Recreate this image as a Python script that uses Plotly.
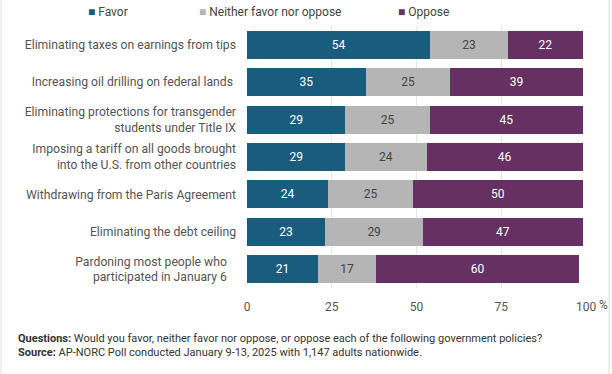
import plotly.graph_objects as go

categories = [
    "Eliminating taxes on earnings from tips",
    "Increasing oil drilling on federal lands ",
    "Eliminating protections for transgender<br>students under Title IX",
    "Imposing a tariff on all goods brought<br>into the U.S. from other countries",
    "Withdrawing from the Paris Agreement",
    "Eliminating the debt ceiling",
    "Pardoning most people who   <br>participated in January 6   ",
]
favor = [54, 35, 29, 29, 24, 23, 21]
neither = [23, 25, 25, 24, 25, 29, 17]
oppose = [22, 39, 45, 46, 50, 47, 60]
series_names = ["Favor", "Neither favor nor oppose", "Oppose"]
tick_vals = [0, 25, 50, 75, 100]

colors = ["#1a5c7e", "#b5b5b5", "#663063"]
text_colors = ["white", "#444444", "white"]
font = "Roboto"

fig = go.Figure()
for i, (name, vals) in enumerate(zip(series_names, [favor, neither, oppose])):
    fig.add_trace(go.Bar(
        y=categories, x=vals, orientation="h", name=name,
        marker=dict(color=colors[i], line=dict(width=0)),
        text=vals, textposition="inside", insidetextanchor="middle",
        textfont=dict(color=text_colors[i], size=12, family=font),
        showlegend=False, hoverinfo="skip",
    ))

W, H = 612, 374
ml, mr, mt, mb = 247, 26, 26, 86
pw = W - ml - mr
ph = H - mt - mb

fig.update_layout(
    width=W, height=H,
    margin=dict(l=ml, r=mr, t=mt, b=mb, autoexpand=False),
    barmode="stack", bargap=0.25,
    plot_bgcolor="white", paper_bgcolor="white",
    showlegend=False,
    font=dict(family=font, size=12, color="#555555"),
    xaxis=dict(range=[0, 100], tickvals=tick_vals, ticktext=[str(v) for v in tick_vals],
               showgrid=True, gridcolor="#e6e6e6", gridwidth=1, zeroline=False,
               ticklabelstandoff=10,
               automargin=False, tickfont=dict(size=12, color="#555555"), fixedrange=True),
    yaxis=dict(autorange="reversed", showgrid=False, ticks="", ticklabelstandoff=10,
               automargin=False, tickfont=dict(size=12.2, color="#555555"), fixedrange=True),
)

# legend drawn as text entries with coloured square glyphs
legend_x = [86, 197, 396]
for i, name in enumerate(series_names):
    fig.add_annotation(
        text=f'<span style="color:{colors[i]}">■</span> {name}',
        xref="paper", yref="paper", x=(legend_x[i] - ml) / pw, y=1 + (mt - 12) / ph,
        xanchor="left", yanchor="middle", showarrow=False,
        font=dict(size=12, family=font, color="#444444"),
    )

fig.add_annotation(text="%", xref="paper", yref="paper", x=1.0, y=0, yshift=-17,
                   xshift=11, xanchor="left", yanchor="middle", showarrow=False,
                   font=dict(size=12, color="#555555", family=font))

fig.add_annotation(
    text="<b>Questions:</b> Would you favor, neither favor nor oppose, or oppose each of the following government policies?<br>"
         "<b>Source:</b> AP-NORC Poll conducted January 9-13, 2025 with 1,147 adults nationwide.",
    xref="paper", yref="paper", x=-(ml - 16) / pw, y=0, yshift=-42,
    xanchor="left", yanchor="top", align="left", showarrow=False,
    font=dict(size=11, color="#333333", family=font),
)

for xp in [1, W - 3]:
    fig.add_shape(type="line", xref="paper", yref="paper",
                  x0=(xp - ml) / pw, x1=(xp - ml) / pw, y0=-mb / ph, y1=1 + mt / ph,
                  line=dict(color="#e0e0e0", width=1))

fig.write_html("out.html", config={"displayModeBar": False},
               post_script="document.body.style.margin='0';document.body.style.padding='0';")
